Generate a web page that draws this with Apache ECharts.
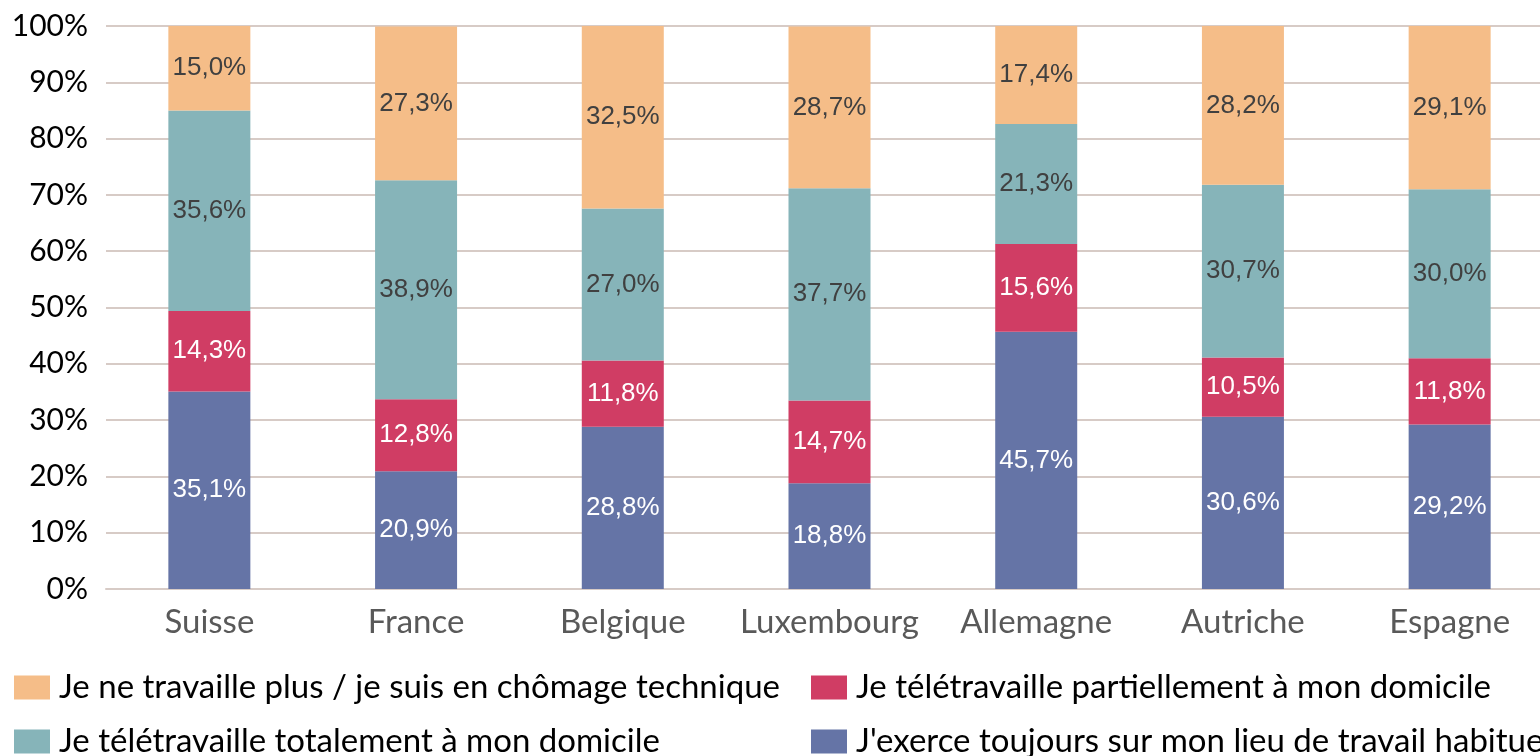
<!DOCTYPE html>
<html>
<head>
<meta charset="utf-8">
<script src="https://cdn.jsdelivr.net/npm/echarts@6/dist/echarts.min.js"></script>
<style>
  html, body { margin: 0; padding: 0; background: #fff; }
  #chart { width: 1540px; height: 756px; }
</style>
</head>
<body>
<div id="chart"></div>
<script>
// pays
const categories = ['Suisse', 'France', 'Belgique', 'Luxembourg', 'Allemagne', 'Autriche', 'Espagne']

// séries (du bas vers le haut de la pile)
const surSite = [35.1, 20.9, 28.8, 18.8, 45.7, 30.6, 29.2]
const partiel = [14.3, 12.8, 11.8, 14.7, 15.6, 10.5, 11.8]
const total = [35.6, 38.9, 27.0, 37.7, 21.3, 30.7, 30.0]
const chomage = [15.0, 27.3, 32.5, 28.7, 17.4, 28.2, 29.1]

const names = {
    chomage: 'Je ne travaille plus / je suis en chômage technique',
    partiel: 'Je télétravaille partiellement à mon domicile',
    total: 'Je télétravaille totalement à mon domicile',
    surSite: "J'exerce toujours sur mon lieu de travail habituel"
}

const chart = echarts.init(document.getElementById('chart'))

const fmt = p => p.value.toFixed(1).replace('.', ',') + '%'

function bar(name, data, color, labelColor) {
    return {
        name: name,
        type: 'bar',
        stack: 'tot',
        barWidth: 82,
        data: data,
        itemStyle: { color: color },
        label: {
            show: true,
            position: 'inside',
            formatter: fmt,
            color: labelColor,
            fontSize: 26,
            fontFamily: 'Liberation Sans'
        }
    }
}

// une légende par entrée pour placer les deux colonnes comme dans l'original
function legend(name, left, top) {
    return {
        left: left,
        top: top,
        itemWidth: 36,
        itemHeight: 24,
        icon: 'rect',
        data: [name],
        textStyle: {
            fontSize: 33,
            lineHeight: 24,
            fontFamily: 'Lato',
            color: '#000',
            padding: [0, 0, 0, 4]
        }
    }
}

var option = {
    animation: false,
    grid: { left: 106, width: 1447, top: 26, bottom: 167, outerBoundsMode: 'none' },
    legend: [
        legend(names.chomage, 9, 666),
        legend(names.total, 9, 720),
        legend(names.partiel, 806, 666),
        legend(names.surSite, 806, 720)
    ],
    xAxis: {
        type: 'category',
        data: categories,
        axisLine: { lineStyle: { color: '#d7cbc6', width: 2 } },
        axisTick: { show: false },
        axisLabel: {
            interval: 0,
            fontSize: 33,
            fontFamily: 'Lato',
            color: '#595959',
            margin: 17
        }
    },
    yAxis: {
        type: 'value',
        min: 0,
        max: 100,
        interval: 10,
        axisLine: { show: false },
        axisTick: { show: false },
        splitLine: { lineStyle: { color: '#d7cbc6', width: 2 } },
        axisLabel: {
            formatter: '{value}%',
            fontSize: 30,
            fontFamily: 'Lato',
            color: '#000',
            margin: 18
        }
    },
    series: [
        bar(names.surSite, surSite, '#6574a6', '#fff'),
        bar(names.partiel, partiel, '#d03d64', '#fff'),
        bar(names.total, total, '#86b4b9', '#404040'),
        bar(names.chomage, chomage, '#f5bd88', '#404040')
    ]
}

chart.setOption(option)
</script>
</body>
</html>
